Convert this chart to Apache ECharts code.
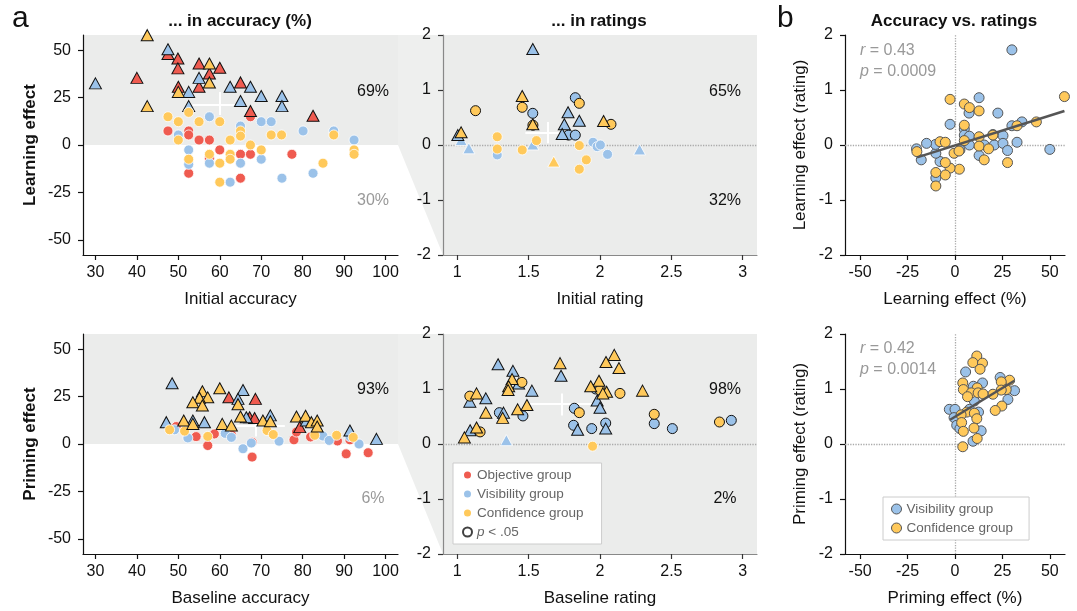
<!DOCTYPE html>
<html><head><meta charset="utf-8">
<script src="https://cdn.jsdelivr.net/npm/echarts@6/dist/echarts.min.js"></script>
<style>html,body{margin:0;padding:0;background:#fff}#c{width:1077px;height:611px}</style>
</head><body><div id="c"></div>
<script>
// ---------- DATA ----------
// point format: [x, y, triangle(1)/circle(0), p<.05 outline(1)/none(0)]
const accLearnObj = [[47.5,48,1,1],[49.9,45.6,1,1],[49.9,40.4,1,1],[55,43,1,1],[57.5,37.7,1,1],[60,40.7,1,1],[40,35.4,1,1],[55,30.7,1,1],[50,30.7,1,1],[65,33,1,1],[67.4,17.9,1,1],[82.5,15.4,1,1],
  [67.4,14.9,0,0],[47.5,7.4,0,0],[52.5,7.4,0,0],[52.5,5.3,0,0],[55,2.6,0,0],[57.5,2.6,0,0],[52.5,-14.9,0,0],[57.5,-7,0,0],[60,-2.6,0,0],[65,-4.9,0,0],[67.4,-4.9,0,0],[77.4,-4.9,0,0],[65,-17.5,0,0]];
const accLearnVis = [[30,32.5,1,1],[47.5,50.5,1,1],[55,35.4,1,1],[52.5,28,1,1],[62.5,30.7,1,1],[67.4,30.7,1,1],[70,25.8,1,1],[75,25.8,1,1],[75,20.5,1,1],[52.5,20.5,1,1],[65,23.2,1,1],
  [57.5,14.9,0,0],[65,10,0,0],[70,12.3,0,0],[72.4,12.3,0,0],[50,5.3,0,0],[80.1,7.4,0,0],[87.5,7.4,0,0],[92.4,2.6,0,0],[52.5,-2.6,0,0],[52.5,-10.2,0,0],[57.5,-9.6,0,0],[65,-9.6,0,0],[70,-7.5,0,0],[82.5,-14.9,0,0],[75,-17.5,0,0],[62.5,-19.6,0,0]];
const accLearnConf = [[42.5,57.9,1,1],[57.5,43,1,1],[57.5,33,1,1],[50,28,1,1],[42.5,20.5,1,1],
  [47.5,14.9,0,0],[52.5,17.2,0,0],[50,12.3,0,0],[55,12.3,0,0],[60,12.3,0,0],[65,7.4,0,0],[65,4.7,0,0],[50,2.6,0,0],[62.5,2.6,0,0],[72.4,5.3,0,0],[74.9,5.3,0,0],[87.5,5.3,0,0],[52.5,-7.5,0,0],[57.5,-4.9,0,0],[60,-9.6,0,0],[62.5,-4.9,0,0],[62.5,-7.5,0,0],[67.4,0,0,0],[70,-2.6,0,0],[92.4,-2.6,0,0],[92.4,-4.9,0,0],[84.9,-9.6,0,0],[60,-19.6,0,0]];

const ratLearnVis = [[1.529,1.745,1,1],[1.529,0.576,0,1],[1.827,0.86,0,1],[1.776,0.594,1,1],[1.855,0.44,1,1],[1.75,0.376,1,1],[1.735,0.2,1,1],[1.78,0.18,0,1],[1.827,0.18,0,1],[1.004,0.18,1,1],
  [1.027,0.09,1,0],[1.081,-0.06,1,0],[1.28,-0.18,0,0],[1.529,0.01,1,0],[1.951,0.05,0,0],[1.98,-0.03,0,0],[2.003,0.0,0,0],[2.053,-0.17,0,0],[2.277,-0.08,1,0]];
const ratLearnConf = [[1.455,0.89,1,1],[1.455,0.685,0,1],[1.128,0.624,0,1],[1.53,0.36,0,1],[1.529,0.376,1,1],[1.855,0.758,0,1],[2.025,0.436,1,1],[2.077,0.376,0,1],[1.027,0.23,1,1],
  [1.28,0.15,0,0],[1.28,-0.073,0,0],[1.455,-0.09,0,0],[1.555,0.08,0,0],[1.676,-0.3,1,0],[1.855,-0.01,0,0],[1.904,-0.27,0,0],[1.855,-0.44,0,0]];

const accPrimeObj = [[62.2,24.6,1,1],[68.6,23.8,1,1],[67.2,14.1,1,1],[68.4,13.7,1,1],[79.3,8.9,1,1],
  [49.5,9.2,0,0],[54.3,3.9,0,0],[57.1,-0.8,0,0],[58.7,5.3,0,0],[62.8,4.9,0,0],[67.8,0.95,0,0],[67.8,-6.9,0,0],[77.9,2.2,0,0],[78.5,6.3,0,0],[81.9,3.7,0,0],[88.4,1.6,0,0],[91.4,2.2,0,0],[90.5,-5.2,0,0],[95.8,-4.6,0,0]];
const accPrimeVis = [[48.5,32,1,1],[65.6,28.5,1,1],[64.4,23.8,1,1],[47.1,11.5,1,1],[53.5,12.4,1,1],[56.3,11.5,1,1],[66.4,14.1,1,1],[72.2,15.1,1,1],[80.9,12.4,1,1],[91.4,7.1,1,1],[97.8,2.7,1,1],
  [49.1,7.5,0,0],[52.3,3.2,0,0],[61.3,5.6,0,0],[62.8,3.5,0,0],[65.6,-2.5,0,0],[67.6,0.5,0,0],[74.3,1.5,0,0],[84.9,4.2,0,0],[86.4,1.9,0,0],[91.4,3.9,0,0],[93.6,0,0,0]];
const accPrimeConf = [[55.8,27.8,1,1],[60,29.4,1,1],[57.1,24.6,1,1],[55.1,24.4,1,1],[53.5,22,1,1],[55.8,20.3,1,1],[64.4,21,1,1],[51.3,12.4,1,1],[53.5,10.6,1,1],[60.6,10.6,1,1],[62.8,9.7,1,1],[65,14.5,1,1],[70.4,12.4,1,1],[72.2,12,1,1],[78.5,14.5,1,1],[80.7,14.9,1,1],[82.1,11.5,1,1],[83.5,12.4,1,1],[83.5,9.2,1,1],
  [47.9,7.5,0,0],[51.5,6.8,0,0],[57.1,4,0,0],[71.4,7.1,0,0],[72.9,5,0,0],[82.9,4.6,0,0],[88.2,4.6,0,0],[92.2,3.5,0,0]];

const ratPrimeVis = [[1.286,1.45,1,1],[1.39,1.33,1,1],[1.43,1.1,1,1],[1.523,0.97,1,1],[1.088,0.77,1,1],[1.2,0.83,1,1],[1.295,0.57,0,1],[1.324,0.57,1,1],[1.46,0.51,0,1],[1.09,0.25,1,1],[1.344,0.07,1,0],[1.727,1.24,1,1],[1.97,1.0,0,1],[1.98,0.79,1,1],[2.0,0.66,1,1],[1.82,0.65,0,1],[1.815,0.34,0,1],[1.843,0.26,1,1],[1.942,0.28,0,1],[2.04,0.38,0,1],[2.04,0.28,1,1],[2.38,0.37,0,1],[2.507,0.28,0,1],[2.92,0.43,0,1]];
const ratPrimeConf = [[1.384,1.18,1,1],[1.36,1.05,1,1],[1.356,0.98,1,1],[1.453,1.12,0,1],[1.088,0.87,0,1],[1.135,0.92,1,1],[1.2,0.57,1,1],[1.318,0.475,1,1],[1.423,0.63,1,1],[1.488,0.71,1,1],[1.135,0.3,1,1],[1.16,0.22,0,1],[1.05,0.12,1,1],[1.72,1.47,1,1],[2.1,1.62,1,1],[2.042,1.49,1,1],[2.133,1.38,1,1],[1.993,1.15,1,1],[1.935,1.05,1,1],[2.046,0.95,1,1],[2.02,0.92,1,1],[2.0,0.98,0,1],[2.14,0.92,0,1],[2.298,0.97,1,1],[1.855,0.57,0,1],[1.948,-0.04,0,0],[2.38,0.54,0,1],[2.837,0.4,0,1]];

// panel b: [effect in accuracy (%), effect in rating]
const corrLearnVis = [[30,1.73],[12.7,0.86],[7.4,0.58],[22.6,0.58],[-2.6,0.376],[4.9,0.29],[35.3,0.42],[30,0.35],[20,0.19],[25.3,0.17],[32.7,0.05],[50,-0.08],[4.9,0.18],[7.6,0.16],[7.6,0],[2.6,-0.09],[15.4,0],[20.7,0],[25.3,0.03],[27.7,-0.1],[12.7,-0.19],[-7.9,-0.3],[-10.1,-0.15],[-10.1,-0.6],[-10.3,0.01],[-15,0.03],[-20.3,-0.07],[-17.8,-0.27]];
const corrLearnConf = [[57.7,0.88],[-2.6,0.83],[4.9,0.745],[7.6,0.68],[12.7,0.62],[4.9,0.36],[42.9,0.42],[32.7,0.35],[20,0.18],[12.7,0.15],[4.9,0.08],[12.7,-0.02],[17.7,-0.07],[27.7,-0.32],[15.4,-0.27],[-0.5,-0.15],[2.1,-0.11],[2.3,-0.44],[-2.6,-0.42],[-5.1,-0.32],[-5.1,-0.545],[-10.1,-0.5],[-10.1,-0.745],[-7.9,0.06],[-5.1,0.05],[-20.1,-0.12]];
const corrPrimeVis = [[5.6,1.31],[23.8,1.21],[14.5,1.11],[9.7,1.05],[31.4,0.97],[10.2,0.78],[27.9,0.81],[-3,0.63],[0,0.63],[7.6,0.63],[12.4,0.58],[-0.5,0.48],[0.9,0.34],[2.6,0.28],[13.8,0.24],[9.5,0.05]];
const corrPrimeConf = [[11.5,1.6],[9.4,1.48],[14.5,1.47],[13.2,1.36],[28.8,1.16],[24.4,1.13],[4.1,1.11],[4.4,0.99],[11.7,1.02],[27,0.99],[24.4,0.98],[20,0.905],[8.6,0.93],[12.2,0.93],[14.8,0.91],[6.6,0.86],[24.7,0.69],[21.2,0.61],[6.2,0.58],[10.2,0.56],[3.2,0.53],[11.5,0.46],[3.5,0.39],[4.4,0.23],[10,0.29],[11.7,0.1],[4.1,-0.05]];

// regression fits (endpoints) and stats
const fitLearn = [[-20,-0.224],[57.7,0.618]];
const fitPrime = [[-2.6,0.44],[31.3,1.15]];
const statsLearn = ['0.43','0.0009'];
const statsPrime = ['0.42','0.0014'];

// mean crosses: [xCenter, yCenter, xLow, xHigh, yLow, yHigh]
const crossAccLearn = [60,21,53.4,66.4,15.8,28];
const crossRatLearn = [1.636,0.23,1.477,1.79,0.03,0.42];
const crossAccPrime = [68.6,9.7,64,75.7,4,16];
const crossRatPrime = [1.733,0.74,1.51,1.95,0.52,0.92];

// percentage of participants with positive / negative effects
const pctLabels = { accLearn:['69%','30%'], ratLearn:['65%','32%'], accPrime:['93%','6%'], ratPrime:['98%','2%'] };

// axis ticks
const accTicks = [30,40,50,60,70,80,90,100];
const effTicks = [-50,-25,0,25,50];
const ratTicks = [1,1.5,2,2.5,3];
const ratEffTicks = [-2,-1,0,1,2];

// ---------- STYLE ----------
const FONT = "'Liberation Sans', Arial, Helvetica, sans-serif";
const RED = '#EF5B50', BLUE = '#9BC2E9', YEL = '#FFC95B', GRAY_BG = '#EBECEB';

const grids = [
  {left:83, top:35, width:315, height:220},
  {left:443, top:35, width:314, height:220, show:true, backgroundColor:GRAY_BG, borderWidth:0},
  {left:83, top:334, width:315, height:220},
  {left:443, top:334, width:314, height:220, show:true, backgroundColor:GRAY_BG, borderWidth:0},
  {left:845, top:35, width:220, height:220},
  {left:845, top:334, width:220, height:220}
];

function axis(gi, min, max, ticks, name, opts) {
  opts = opts || {};
  const lc = opts.lineColor || '#111';
  return {
    type:'value', gridIndex:gi, min, max,
    axisLine:{show:true, onZero:false, lineStyle:{color:lc, width:1.2}},
    axisTick:{show:true, length:5, customValues:ticks, lineStyle:{color:opts.tickColor||'#111', width:1.2}},
    axisLabel:{customValues:ticks, fontSize:16, color:'#111', fontFamily:FONT, margin:opts.margin||12},
    splitLine:{show:false},
    name, nameLocation:'middle', nameGap:opts.gap||36,
    nameTextStyle:{fontSize:17, color:'#111', fontFamily:FONT, fontWeight:opts.bold?'bold':'normal'}
  };
}

const xAxes = [
  axis(0,27,103,accTicks,'Initial accuracy',{margin:10}),
  axis(1,0.9,3.1,ratTicks,'Initial rating',{lineColor:'#888',tickColor:'#333',margin:10}),
  axis(2,27,103,accTicks,'Baseline accuracy',{margin:10}),
  axis(3,0.9,3.1,ratTicks,'Baseline rating',{lineColor:'#888',tickColor:'#333',margin:10}),
  axis(4,-58,58,effTicks,'Learning effect (%)',{margin:10}),
  axis(5,-58,58,effTicks,'Priming effect (%)',{margin:10})
];
const yAxes = [
  axis(0,-58,58,effTicks,'Learning effect',{bold:true,gap:44}),
  axis(1,-2,2,ratEffTicks,'',{lineColor:'#888',tickColor:'#333'}),
  axis(2,-58,58,effTicks,'Priming effect',{bold:true,gap:44}),
  axis(3,-2,2,ratEffTicks,'',{lineColor:'#888',tickColor:'#333'}),
  axis(4,-2,2,ratEffTicks,'Learning effect (rating)',{gap:36}),
  axis(5,-2,2,ratEffTicks,'Priming effect (rating)',{gap:36})
];

function groupSeries(name, color, pts, gi, extra) {
  const sorted = pts.slice().sort((a,b)=> (a[3]-b[3]) || (a[2]-b[2]));
  return Object.assign({
    type:'scatter', name, xAxisIndex:gi, yAxisIndex:gi, z:3,
    itemStyle:{color, borderColor:'#fff', borderWidth:0.8, opacity:1},
    data: sorted.map(p => ({
      value:[p[0],p[1]],
      symbol: p[2] ? 'triangle' : 'circle',
      symbolSize: p[2] ? [12,11] : 10,
      itemStyle: p[3] ? {borderColor:'#111', borderWidth:1} : {borderColor:'#fff', borderWidth:0.8}
    }))
  }, extra||{});
}
function corrSeries(name, color, pts, gi, extra) {
  return Object.assign({
    type:'scatter', name, xAxisIndex:gi, yAxisIndex:gi, z:3, symbol:'circle', symbolSize:10,
    itemStyle:{color, borderColor:'#555', borderWidth:1, opacity:1},
    data: pts.map(p => [p[0],p[1]])
  }, extra||{});
}
function crossSeries(c, gi) {
  return {type:'lines', coordinateSystem:'cartesian2d', xAxisIndex:gi, yAxisIndex:gi, z:2, silent:true,
    lineStyle:{color:'#fff', width:2, opacity:1},
    data:[{coords:[[c[2],c[1]],[c[3],c[1]]]},{coords:[[c[0],c[4]],[c[0],c[5]]]}]};
}
const dotted = {type:'dotted', color:'#aaa', width:1.3};
function zeroLines(both) {
  const d = [{yAxis:0}];
  if (both) d.push({xAxis:0});
  return {markLine:{silent:true, symbol:['none','none'], label:{show:false}, lineStyle:dotted, data:d, z:1}};
}

const series = [
  crossSeries(crossAccLearn,0),
  groupSeries('Objective group', RED, accLearnObj, 0),
  groupSeries('Visibility group', BLUE, accLearnVis, 0),
  groupSeries('Confidence group', YEL, accLearnConf, 0),
  crossSeries(crossRatLearn,1),
  groupSeries('Visibility group', BLUE, ratLearnVis, 1, zeroLines(false)),
  groupSeries('Confidence group', YEL, ratLearnConf, 1),
  crossSeries(crossAccPrime,2),
  groupSeries('Objective group', RED, accPrimeObj, 2),
  groupSeries('Visibility group', BLUE, accPrimeVis, 2),
  groupSeries('Confidence group', YEL, accPrimeConf, 2),
  crossSeries(crossRatPrime,3),
  groupSeries('Visibility group', BLUE, ratPrimeVis, 3, zeroLines(false)),
  groupSeries('Confidence group', YEL, ratPrimeConf, 3),
  {type:'scatter', name:'p < .05', xAxisIndex:3, yAxisIndex:3, data:[], symbol:'circle', itemStyle:{color:'#fff', borderColor:'#111', borderWidth:1}},
  corrSeries('Visibility group', BLUE, corrLearnVis, 4, zeroLines(true)),
  corrSeries('Confidence group', YEL, corrLearnConf, 4),
  {type:'line', xAxisIndex:4, yAxisIndex:4, data:fitLearn, symbol:'none', z:4, lineStyle:{color:'#555', width:2.5}},
  corrSeries('Visibility group', BLUE, corrPrimeVis, 5, zeroLines(true)),
  corrSeries('Confidence group', YEL, corrPrimeConf, 5),
  {type:'line', xAxisIndex:5, yAxisIndex:5, data:fitPrime, symbol:'none', z:4, lineStyle:{color:'#555', width:2.5}}
];

const legendText = {fontSize:13.5, color:'#666', fontFamily:FONT, rich:{i:{fontStyle:'italic', fontSize:13.5, color:'#666', fontFamily:FONT}}};
const legends = [
  {left:453, top:463, orient:'vertical', selectedMode:false, icon:'circle', itemWidth:9, itemHeight:9, itemGap:5,
   padding:[5,18,5,9], borderColor:'#ccc', borderWidth:1, backgroundColor:'#fff', textStyle:legendText,
   data:['Objective group','Visibility group','Confidence group','p < .05'],
   formatter: n => n === 'p < .05' ? '{i|p} < .05' : n},
  {left:883, top:497, orient:'vertical', selectedMode:false, icon:'circle', itemWidth:10, itemHeight:10, itemGap:5,
   padding:[5,16,5,8], borderColor:'#ccc', borderWidth:1, backgroundColor:'#fff', textStyle:legendText,
   data:[{name:'Visibility group', itemStyle:{borderColor:'#555', borderWidth:1}},
         {name:'Confidence group', itemStyle:{borderColor:'#555', borderWidth:1}}]}
];

const chart = echarts.init(document.getElementById('c'), null, {renderer:'canvas'});
chart.setOption({animation:false, grid:grids, xAxis:xAxes, yAxis:yAxes, series, legend:legends});

// ---------- decorations computed from the axes ----------
const P = (gi, x, y) => chart.convertToPixel({gridIndex:gi}, [x,y]);
function posRect(gi) {
  const a = P(gi, 27, 58), b = P(gi, 103, 0);
  return {type:'rect', z:-1, shape:{x:a[0], y:a[1], width:b[0]-a[0], height:b[1]-a[1]}, style:{fill:GRAY_BG}};
}
function connector(gl, gr) {
  return {type:'polygon', z:-1, shape:{points:[P(gl,103,58), P(gr,0.9,2), P(gr,0.9,-2), P(gl,103,0)]}, style:{fill:'#EEEFEE'}};
}
function txt(x, y, text, o) {
  o = o || {};
  return {type:'text', x, y, z:10, style:Object.assign({text, fontFamily:FONT, fontSize:16, fill:'#111', align:'center', verticalAlign:'middle'}, o)};
}
const stat = (x, y, s) => txt(x, y, s, {align:'left', fill:'#999', rich:{i:{fontStyle:'italic', fontSize:16, fill:'#999', fontFamily:FONT}}});

chart.setOption({graphic:[
  posRect(0), posRect(2), connector(0,1), connector(2,3),
  txt(12, 19, 'a', {fontSize:30, align:'left'}),
  txt(777, 19, 'b', {fontSize:30, align:'left'}),
  txt(240, 21, '... in accuracy (%)', {fontWeight:'bold', fontSize:17}),
  txt(599, 21, '... in ratings', {fontWeight:'bold', fontSize:17}),
  txt(954, 21, 'Accuracy vs. ratings', {fontWeight:'bold', fontSize:17}),
  txt(373, 92, pctLabels.accLearn[0]), txt(373, 201, pctLabels.accLearn[1], {fill:'#999'}),
  txt(725, 92, pctLabels.ratLearn[0]), txt(725, 201, pctLabels.ratLearn[1]),
  txt(373, 390, pctLabels.accPrime[0]), txt(373, 499, pctLabels.accPrime[1], {fill:'#999'}),
  txt(725, 390, pctLabels.ratPrime[0]), txt(725, 499, pctLabels.ratPrime[1]),
  stat(860, 51, '{i|r} = ' + statsLearn[0]), stat(860, 72, '{i|p} = ' + statsLearn[1]),
  stat(860, 349, '{i|r} = ' + statsPrime[0]), stat(860, 370, '{i|p} = ' + statsPrime[1])
]});
</script></body></html>
